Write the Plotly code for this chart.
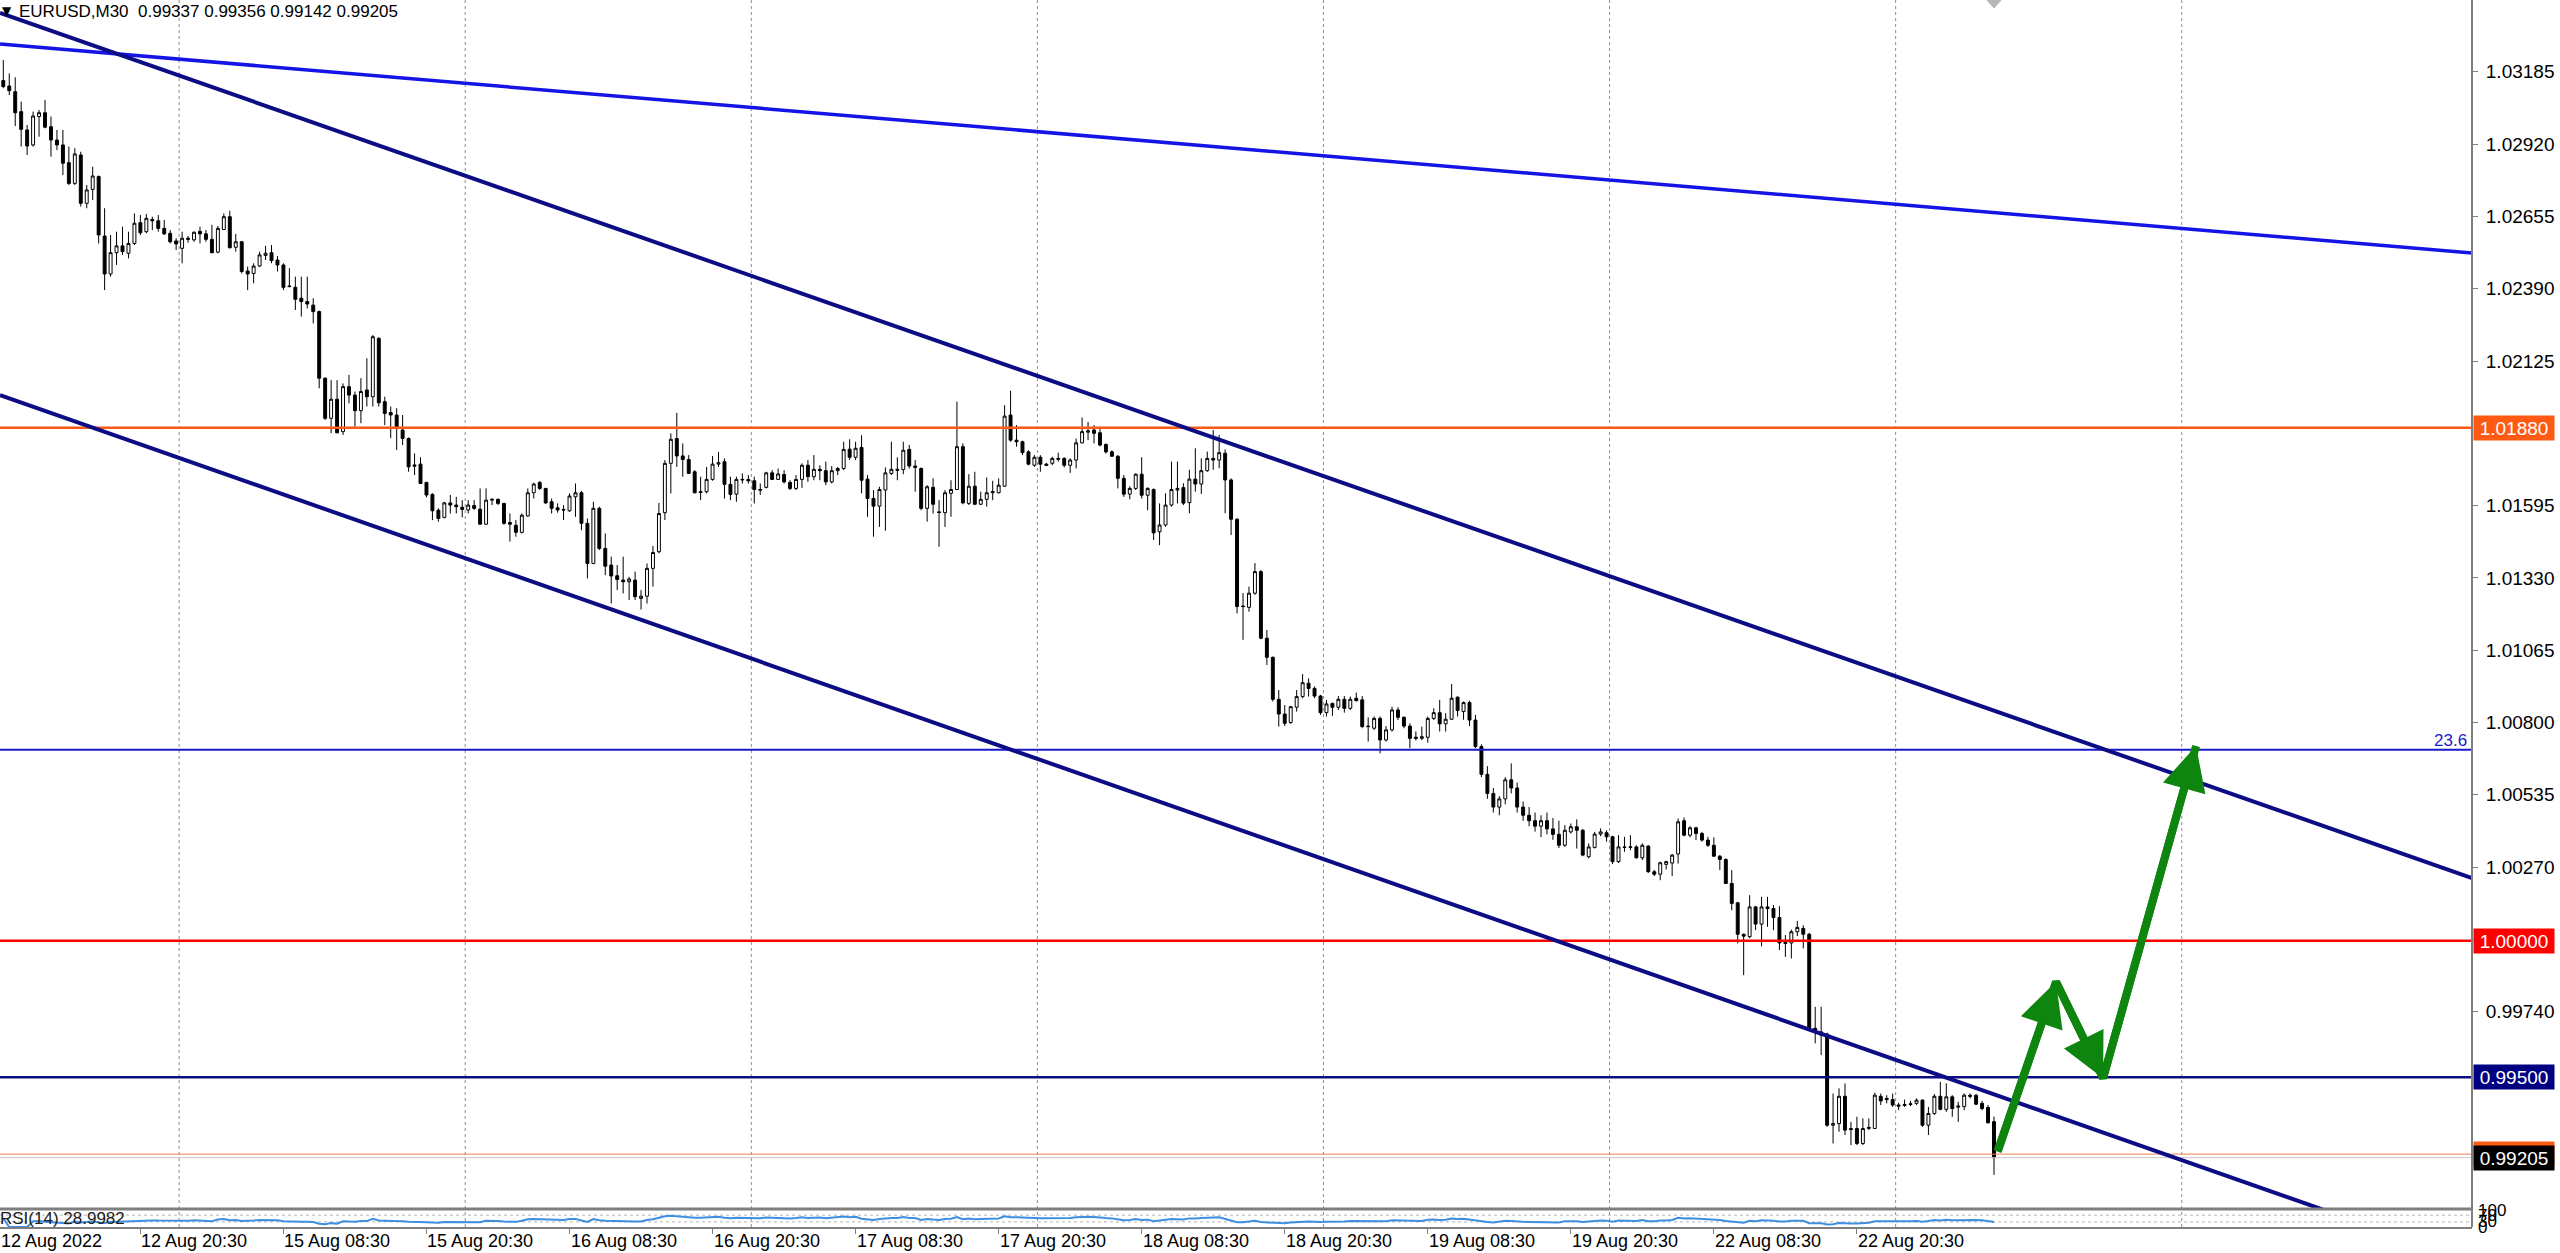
import plotly.graph_objects as go

# ---------------- data (EURUSD M30) ----------------
opens = [
1.03153,1.03133,1.03112,1.03039,1.02972,1.02917,1.03021,1.03035,1.02984,1.02935,
1.02917,1.02852,1.02776,1.02880,1.02703,1.02754,1.02801,1.02583,1.02444,1.02522,
1.02547,1.02520,1.02556,1.02632,1.02599,1.02644,1.02639,1.02611,1.02593,1.02565,
1.02538,1.02575,1.02569,1.02600,1.02591,1.02571,1.02524,1.02607,1.02654,1.02542,
1.02562,1.02455,1.02446,1.02473,1.02512,1.02522,1.02495,1.02477,1.02400,1.02395,
1.02355,1.02343,1.02330,1.02306,1.02062,1.01915,1.01985,1.01866,1.02031,1.02000,
1.01943,1.02019,1.01994,1.02208,1.01976,1.01936,1.01927,1.01872,1.01841,1.01744,
1.01747,1.01680,1.01636,1.01578,1.01552,1.01605,1.01597,1.01589,1.01579,1.01595,
1.01582,1.01527,1.01615,1.01618,1.01603,1.01533,1.01523,1.01497,1.01557,1.01642,
1.01680,1.01658,1.01609,1.01587,1.01581,1.01576,1.01627,1.01642,1.01530,1.01383,
1.01585,1.01438,1.01377,1.01338,1.01322,1.01316,1.01322,1.01255,1.01263,1.01365,
1.01426,1.01569,1.01750,1.01841,1.01777,1.01764,1.01719,1.01646,1.01646,1.01691,
1.01747,1.01756,1.01673,1.01637,1.01689,1.01691,1.01686,1.01654,1.01662,1.01715,
1.01691,1.01709,1.01680,1.01658,1.01691,1.01743,1.01701,1.01728,1.01723,1.01682,
1.01723,1.01731,1.01802,1.01772,1.01808,1.01692,1.01621,1.01593,1.01652,1.01713,
1.01728,1.01727,1.01801,1.01740,1.01731,1.01585,1.01662,1.01572,1.01569,1.01640,
1.01654,1.01811,1.01603,1.01666,1.01600,1.01618,1.01642,1.01642,1.01666,1.01927,
1.01835,1.01829,1.01792,1.01743,1.01772,1.01747,1.01750,1.01768,1.01768,1.01743,
1.01762,1.01825,1.01864,1.01872,1.01862,1.01819,1.01792,1.01776,1.01695,1.01637,
1.01658,1.01710,1.01633,1.01654,1.01499,1.01524,1.01597,1.01652,1.01661,1.01606,
1.01692,1.01674,1.01723,1.01768,1.01762,1.01787,1.01689,1.01545,1.01227,1.01222,
1.01274,1.01353,1.01109,1.01039,1.00885,1.00831,1.00800,1.00856,1.00895,1.00944,
1.00925,1.00897,1.00836,1.00870,1.00856,1.00885,1.00852,1.00889,1.00883,1.00787,
1.00779,1.00815,1.00736,1.00773,1.00846,1.00819,1.00787,1.00746,1.00742,1.00746,
1.00815,1.00836,1.00795,1.00812,1.00893,1.00840,1.00873,1.00809,1.00712,1.00610,
1.00540,1.00490,1.00520,1.00590,1.00560,1.00490,1.00460,1.00440,1.00420,1.00440,
1.00410,1.00390,1.00350,1.00399,1.00418,1.00405,1.00308,1.00342,1.00391,1.00396,
1.00381,1.00290,1.00344,1.00342,1.00344,1.00304,1.00347,1.00253,1.00244,1.00280,
1.00285,1.00318,1.00440,1.00387,1.00414,1.00393,1.00369,1.00350,1.00310,1.00298,
1.00210,1.00139,1.00024,1.00015,1.00124,1.00061,1.00124,1.00118,1.00085,0.99994,
0.99992,1.00033,1.00045,1.00024,0.99679,0.99666,0.99658,0.99324,0.99330,0.99430,
0.99312,0.99312,0.99257,0.99312,0.99312,0.99430,0.99422,0.99418,0.99398,0.99396,
0.99400,0.99404,0.99416,0.99324,0.99367,0.99430,0.99382,0.99428,0.99390,0.99392,
0.99434,0.99434,0.99404,0.99389,0.99337]

highs = [
1.03228,1.03179,1.03165,1.03076,1.02990,1.03039,1.03045,1.03082,1.03021,1.02972,
1.02972,1.02911,1.02905,1.02892,1.02770,1.02837,1.02805,1.02685,1.02587,1.02599,
1.02617,1.02599,1.02666,1.02660,1.02664,1.02654,1.02660,1.02642,1.02605,1.02575,
1.02599,1.02583,1.02600,1.02617,1.02605,1.02624,1.02620,1.02666,1.02676,1.02591,
1.02565,1.02471,1.02483,1.02526,1.02547,1.02550,1.02510,1.02483,1.02465,1.02434,
1.02434,1.02434,1.02355,1.02310,1.02065,1.02055,1.02055,1.02043,1.02074,1.02013,
1.02062,1.02135,1.02220,1.02212,1.01994,1.01958,1.01952,1.01927,1.01845,1.01786,
1.01772,1.01682,1.01640,1.01585,1.01609,1.01634,1.01627,1.01615,1.01615,1.01615,
1.01658,1.01658,1.01621,1.01621,1.01605,1.01566,1.01542,1.01566,1.01658,1.01679,
1.01685,1.01660,1.01621,1.01603,1.01597,1.01640,1.01676,1.01649,1.01548,1.01609,
1.01591,1.01493,1.01408,1.01377,1.01408,1.01334,1.01353,1.01285,1.01383,1.01447,
1.01605,1.01762,1.01860,1.01935,1.01823,1.01780,1.01725,1.01701,1.01737,1.01777,
1.01792,1.01768,1.01701,1.01701,1.01713,1.01707,1.01701,1.01676,1.01719,1.01725,
1.01731,1.01725,1.01688,1.01707,1.01750,1.01762,1.01780,1.01743,1.01756,1.01740,
1.01737,1.01829,1.01838,1.01829,1.01853,1.01707,1.01652,1.01664,1.01735,1.01829,
1.01772,1.01829,1.01817,1.01762,1.01735,1.01670,1.01695,1.01615,1.01652,1.01688,
1.01976,1.01823,1.01710,1.01719,1.01646,1.01698,1.01686,1.01695,1.01963,1.02016,
1.01890,1.01833,1.01798,1.01780,1.01780,1.01752,1.01774,1.01789,1.01772,1.01768,
1.01841,1.01918,1.01902,1.01890,1.01884,1.01823,1.01798,1.01780,1.01707,1.01666,
1.01713,1.01772,1.01662,1.01658,1.01603,1.01640,1.01756,1.01756,1.01677,1.01726,
1.01805,1.01768,1.01793,1.01872,1.01854,1.01801,1.01695,1.01549,1.01274,1.01298,
1.01384,1.01359,1.01139,1.01042,1.00919,1.00864,1.00861,1.00919,1.00978,1.00962,
1.00932,1.00901,1.00883,1.00873,1.00897,1.00897,1.00895,1.00910,1.00897,1.00819,
1.00822,1.00822,1.00787,1.00858,1.00856,1.00822,1.00797,1.00767,1.00785,1.00822,
1.00852,1.00883,1.00834,1.00941,1.00895,1.00877,1.00880,1.00828,1.00720,1.00640,
1.00560,1.00530,1.00600,1.00650,1.00580,1.00510,1.00490,1.00470,1.00460,1.00470,
1.00450,1.00440,1.00424,1.00430,1.00445,1.00410,1.00357,1.00399,1.00412,1.00405,
1.00385,1.00387,1.00381,1.00387,1.00350,1.00357,1.00350,1.00259,1.00290,1.00293,
1.00318,1.00448,1.00452,1.00420,1.00418,1.00399,1.00381,1.00379,1.00314,1.00302,
1.00259,1.00143,1.00026,1.00167,1.00128,1.00161,1.00161,1.00131,1.00127,1.00021,
1.00041,1.00073,1.00057,1.00029,0.99758,0.99758,0.99663,0.99440,0.99459,0.99477,
0.99336,0.99355,0.99349,0.99349,0.99443,0.99440,0.99434,0.99440,0.99406,0.99418,
0.99413,0.99422,0.99418,0.99391,0.99438,0.99483,0.99477,0.99434,0.99410,0.99440,
0.99440,0.99438,0.99413,0.99398,0.99356]

lows = [
1.03125,1.03100,1.02986,1.02911,1.02880,1.02911,1.02947,1.02978,1.02874,1.02898,
1.02807,1.02770,1.02770,1.02691,1.02685,1.02715,1.02556,1.02385,1.02434,1.02477,
1.02514,1.02501,1.02550,1.02587,1.02593,1.02605,1.02599,1.02587,1.02556,1.02532,
1.02483,1.02559,1.02562,1.02556,1.02562,1.02520,1.02520,1.02605,1.02538,1.02526,
1.02446,1.02385,1.02410,1.02470,1.02495,1.02483,1.02453,1.02385,1.02395,1.02312,
1.02288,1.02318,1.02263,1.02025,1.01909,1.01860,1.01860,1.01854,1.01970,1.01884,
1.01897,1.01958,1.01958,1.01958,1.01890,1.01842,1.01799,1.01817,1.01719,1.01707,
1.01674,1.01625,1.01542,1.01536,1.01548,1.01566,1.01566,1.01552,1.01566,1.01579,
1.01525,1.01525,1.01597,1.01597,1.01525,1.01463,1.01481,1.01493,1.01554,1.01621,
1.01652,1.01601,1.01566,1.01569,1.01542,1.01572,1.01554,1.01505,1.01328,1.01380,
1.01432,1.01340,1.01236,1.01285,1.01273,1.01249,1.01249,1.01214,1.01236,1.01298,
1.01420,1.01542,1.01640,1.01737,1.01701,1.01711,1.01640,1.01615,1.01640,1.01686,
1.01737,1.01621,1.01615,1.01609,1.01676,1.01676,1.01603,1.01634,1.01658,1.01689,
1.01689,1.01676,1.01652,1.01652,1.01660,1.01682,1.01688,1.01688,1.01670,1.01676,
1.01707,1.01725,1.01762,1.01762,1.01640,1.01554,1.01481,1.01517,1.01503,1.01707,
1.01688,1.01710,1.01731,1.01646,1.01578,1.01536,1.01566,1.01444,1.01517,1.01554,
1.01652,1.01600,1.01597,1.01597,1.01597,1.01591,1.01615,1.01640,1.01664,1.01829,
1.01811,1.01780,1.01743,1.01737,1.01719,1.01740,1.01743,1.01756,1.01735,1.01715,
1.01731,1.01823,1.01835,1.01823,1.01812,1.01786,1.01774,1.01658,1.01627,1.01618,
1.01652,1.01621,1.01578,1.01469,1.01450,1.01517,1.01591,1.01603,1.01597,1.01567,
1.01646,1.01638,1.01719,1.01726,1.01732,1.01567,1.01487,1.01200,1.01103,1.01206,
1.01268,1.01105,1.01011,1.00877,1.00785,1.00787,1.00795,1.00840,1.00889,1.00895,
1.00889,1.00828,1.00822,1.00824,1.00846,1.00836,1.00846,1.00877,1.00779,1.00730,
1.00773,1.00687,1.00730,1.00767,1.00809,1.00779,1.00706,1.00734,1.00736,1.00726,
1.00809,1.00767,1.00767,1.00810,1.00822,1.00810,1.00787,1.00706,1.00600,1.00520,
1.00470,1.00460,1.00500,1.00540,1.00470,1.00440,1.00420,1.00400,1.00380,1.00390,
1.00370,1.00340,1.00344,1.00393,1.00338,1.00310,1.00302,1.00338,1.00383,1.00363,
1.00281,1.00285,1.00326,1.00332,1.00302,1.00296,1.00249,1.00237,1.00222,1.00261,
1.00237,1.00283,1.00383,1.00379,1.00369,1.00363,1.00344,1.00308,1.00259,1.00208,
1.00112,0.99990,0.99874,1.00009,1.00039,0.99980,1.00051,1.00039,0.99966,0.99941,
0.99935,1.00017,0.99972,0.99679,0.99624,0.99581,0.99318,0.99257,0.99300,0.99288,
0.99251,0.99251,0.99251,0.99306,0.99310,0.99398,0.99404,0.99391,0.99379,0.99391,
0.99394,0.99398,0.99318,0.99288,0.99361,0.99379,0.99373,0.99355,0.99336,0.99379,
0.99422,0.99398,0.99379,0.99330,0.99142]

closes = [
1.03131,1.03116,1.03035,1.02974,1.02913,1.03023,1.03035,1.02982,1.02935,1.02917,
1.02850,1.02776,1.02884,1.02703,1.02752,1.02803,1.02587,1.02444,1.02522,1.02547,
1.02526,1.02556,1.02630,1.02595,1.02648,1.02639,1.02611,1.02591,1.02562,1.02554,
1.02575,1.02571,1.02597,1.02591,1.02571,1.02522,1.02611,1.02654,1.02540,1.02562,
1.02453,1.02444,1.02473,1.02514,1.02520,1.02493,1.02477,1.02395,1.02398,1.02351,
1.02343,1.02334,1.02306,1.02062,1.01915,1.01985,1.01862,1.02031,1.02000,1.01943,
1.02013,1.01994,1.02214,1.01972,1.01933,1.01927,1.01878,1.01841,1.01737,1.01740,
1.01676,1.01634,1.01576,1.01548,1.01605,1.01597,1.01591,1.01581,1.01597,1.01585,
1.01527,1.01615,1.01618,1.01603,1.01530,1.01527,1.01497,1.01560,1.01642,1.01674,
1.01658,1.01605,1.01585,1.01579,1.01579,1.01630,1.01642,1.01530,1.01383,1.01585,
1.01438,1.01373,1.01337,1.01324,1.01316,1.01326,1.01261,1.01263,1.01365,1.01423,
1.01566,1.01750,1.01838,1.01777,1.01764,1.01713,1.01642,1.01643,1.01691,1.01747,
1.01752,1.01673,1.01636,1.01691,1.01691,1.01686,1.01654,1.01652,1.01715,1.01691,
1.01711,1.01682,1.01658,1.01691,1.01743,1.01701,1.01728,1.01723,1.01682,1.01723,
1.01731,1.01801,1.01772,1.01805,1.01688,1.01621,1.01593,1.01654,1.01715,1.01728,
1.01725,1.01798,1.01740,1.01735,1.01585,1.01664,1.01600,1.01570,1.01642,1.01654,
1.01811,1.01605,1.01666,1.01600,1.01618,1.01642,1.01646,1.01670,1.01923,1.01835,
1.01829,1.01789,1.01747,1.01772,1.01747,1.01743,1.01768,1.01765,1.01743,1.01762,
1.01825,1.01866,1.01869,1.01860,1.01817,1.01792,1.01776,1.01695,1.01637,1.01658,
1.01710,1.01633,1.01658,1.01495,1.01524,1.01597,1.01654,1.01658,1.01604,1.01692,
1.01674,1.01723,1.01768,1.01762,1.01789,1.01689,1.01545,1.01225,1.01225,1.01274,
1.01353,1.01109,1.01039,1.00885,1.00831,1.00797,1.00858,1.00895,1.00946,1.00925,
1.00897,1.00836,1.00868,1.00856,1.00885,1.00852,1.00885,1.00880,1.00785,1.00785,
1.00815,1.00736,1.00773,1.00846,1.00819,1.00787,1.00742,1.00742,1.00748,1.00815,
1.00836,1.00795,1.00812,1.00889,1.00844,1.00873,1.00809,1.00712,1.00610,1.00540,
1.00490,1.00520,1.00590,1.00560,1.00490,1.00460,1.00440,1.00420,1.00440,1.00410,
1.00390,1.00350,1.00405,1.00418,1.00405,1.00314,1.00344,1.00391,1.00399,1.00381,
1.00290,1.00344,1.00342,1.00344,1.00304,1.00350,1.00253,1.00244,1.00286,1.00290,
1.00314,1.00436,1.00387,1.00414,1.00393,1.00369,1.00350,1.00310,1.00298,1.00210,
1.00137,1.00024,1.00017,1.00124,1.00061,1.00124,1.00118,1.00085,0.99992,0.99990,
1.00033,1.00049,1.00024,0.99682,0.99672,0.99654,0.99324,0.99330,0.99430,0.99306,
0.99308,0.99257,0.99312,0.99316,0.99434,0.99413,0.99418,0.99398,0.99394,0.99400,
0.99402,0.99416,0.99324,0.99367,0.99430,0.99382,0.99428,0.99385,0.99394,0.99434,
0.99430,0.99401,0.99385,0.99333,0.99205]

# time-axis labels and the bar they start at
time_labels = ["12 Aug 2022", "12 Aug 20:30", "15 Aug 08:30", "15 Aug 20:30", "16 Aug 08:30",
               "16 Aug 20:30", "17 Aug 08:30", "17 Aug 20:30", "18 Aug 08:30", "18 Aug 20:30",
               "19 Aug 08:30", "19 Aug 20:30", "22 Aug 08:30", "22 Aug 20:30"]
time_label_bars = [-0.5, 23, 47, 71, 95, 119, 143, 167, 191, 215, 239, 263, 287, 311]
day_separator_bars = [29.5, 77.5, 125.5, 173.5, 221.5, 269.5, 317.5, 365.5]

# price scale labels (those fully hidden under the coloured price boxes are omitted)
price_tick_labels = ["1.03185", "1.02920", "1.02655", "1.02390", "1.02125", "1.01595",
                     "1.01330", "1.01065", "1.00800", "1.00535", "1.00270", "1.00005", "0.99740"]

# drawn objects (bar index, price)
trend_long_bars, trend_long_prices = [-0.55, 414.2], [1.03287, 1.02521]
channel_top_bars, channel_top_prices = [-0.55, 414.2], [1.03401, 1.00230]
channel_bot_bars, channel_bot_prices = [-0.55, 414.2], [1.02000, 0.98823]
level_resistance = 1.01880
level_fib236 = 1.00700
level_parity = 1.00000
level_support = 0.99500
ask_price = 0.99218
bid_price = 0.99205
zigzag_bars = [334.6, 344.4, 352.3, 367.9]
zigzag_prices = [0.99227, 0.99850, 0.99496, 1.00714]

symbol = "EURUSD,M30"
rsi_period = 14
rsi_label = "RSI(14) 28.9982"
rsi_levels = [70, 30]
rsi_scale_labels = ["100", "70", "30", "0"]
rsi_scale_values = [100, 70, 30, 0]

# ---------------- derived ----------------
n = min(len(opens), len(highs), len(lows), len(closes))
bars = list(range(n))


def rsi(values, period):
    out = [50.0]
    gains, losses = [], []
    ag = al = 0.0
    for i in range(1, len(values)):
        d = values[i] - values[i - 1]
        g, l = max(d, 0.0), max(-d, 0.0)
        if i <= period:
            gains.append(g)
            losses.append(l)
            ag, al = sum(gains) / len(gains), sum(losses) / len(losses)
        else:
            ag = (ag * (period - 1) + g) / period
            al = (al * (period - 1) + l) / period
        out.append(100.0 if al == 0 else 100.0 - 100.0 / (1.0 + ag / al))
    return out


rsi_values = rsi(closes[:n], rsi_period)

# ---------------- figure geometry ----------------
W, H = 2560, 1253
M_R, M_B = 88, 26
plot_h = H - M_B
main_bottom_px = 1208
rsi_top_px = 1210
main_dom = [(plot_h - main_bottom_px) / plot_h, 1.0]
rsi_dom = [0.0, (plot_h - rsi_top_px) / plot_h]
X_RANGE = [-0.554, 414.2]
Y_RANGE = [0.990205, 1.034482]

FONT = "Liberation Sans, Arial, sans-serif"
NAVY = "#0c0c85"
BLUE = "#1414e6"
ORANGE = "#ff5a14"
RED = "#ff0000"
GREEN = "#0e850e"
GRID = "#8c8c8c"
AXIS = "#7f7f7f"

fig = go.Figure()

fig.add_trace(go.Candlestick(
    x=bars, open=opens[:n], high=highs[:n], low=lows[:n], close=closes[:n],
    increasing=dict(line=dict(color="black", width=1), fillcolor="white"),
    decreasing=dict(line=dict(color="black", width=1), fillcolor="black"),
    whiskerwidth=0, showlegend=False, hoverinfo="skip",
    xaxis="x", yaxis="y"))


def hline(price, color, width):
    fig.add_trace(go.Scatter(x=X_RANGE, y=[price, price], mode="lines",
                             line=dict(color=color, width=width),
                             showlegend=False, hoverinfo="skip", xaxis="x", yaxis="y"))


hline(bid_price, "#c8c8c8", 1)
hline(ask_price, "#f08050", 1)
hline(level_resistance, ORANGE, 2.5)
hline(level_fib236, "#1a1acc", 2)
hline(level_parity, RED, 2.5)
hline(level_support, NAVY, 2.5)

for bx, py, col, wd in [(trend_long_bars, trend_long_prices, BLUE, 3.5),
                        (channel_top_bars, channel_top_prices, NAVY, 4),
                        (channel_bot_bars, channel_bot_prices, NAVY, 4)]:
    fig.add_trace(go.Scatter(x=bx, y=py, mode="lines", line=dict(color=col, width=wd),
                             showlegend=False, hoverinfo="skip", xaxis="x", yaxis="y"))

fig.add_trace(go.Scatter(x=zigzag_bars, y=zigzag_prices, mode="lines",
                         line=dict(color=GREEN, width=8), showlegend=False,
                         hoverinfo="skip", xaxis="x", yaxis="y"))

# RSI
fig.add_trace(go.Scatter(x=bars, y=rsi_values, mode="lines",
                         line=dict(color="#3d8fe0", width=2), showlegend=False,
                         hoverinfo="skip", xaxis="x2", yaxis="y2"))

shapes = []
for b in day_separator_bars:
    shapes.append(dict(type="line", xref="x", yref="paper", x0=b, x1=b, y0=0, y1=1,
                       line=dict(color=GRID, width=1, dash="dot"), layer="below"))
for lv in rsi_levels:
    shapes.append(dict(type="line", xref="paper", yref="y2", x0=0, x1=1, y0=lv, y1=lv,
                       line=dict(color="#b4b4b4", width=1, dash="dot"), layer="below"))
# panel separator, right scale border
sep_y = (plot_h - 1209) / plot_h
shapes.append(dict(type="line", xref="paper", yref="paper", x0=0, x1=1, y0=sep_y, y1=sep_y,
                   line=dict(color=AXIS, width=3)))
shapes.append(dict(type="line", xref="paper", yref="paper", x0=1, x1=1, y0=0, y1=1,
                   line=dict(color=AXIS, width=2)))
# chart-shift marker
shapes.append(dict(type="path", xref="x", yref="paper", xsizemode="pixel", ysizemode="pixel",
                   xanchor=n - 1, yanchor=1, path="M -9,2 L 9,2 L 0,-8 Z",
                   fillcolor="#b8b8b8", line=dict(color="#b8b8b8", width=1)))

ann = []
# header
ann.append(dict(xref="paper", yref="paper", x=0, y=1, xanchor="left", yanchor="top",
                xshift=0, yshift=-2, showarrow=False, text="\u25bc",
                font=dict(family="DejaVu Sans", size=12, color="black")))
head = "%s\u00a0\u00a0%.5f %.5f %.5f %.5f" % (symbol, opens[n - 1], highs[n - 1], lows[n - 1], closes[n - 1])
ann.append(dict(xref="paper", yref="paper", x=0, y=1, xanchor="left", yanchor="top",
                xshift=17, yshift=0, showarrow=False, text=head,
                font=dict(family=FONT, size=17, color="black")))
# time labels
for lab, b in zip(time_labels, time_label_bars):
    ann.append(dict(xref="x2", yref="paper", x=b, y=0, xanchor="left", yanchor="middle",
                    xshift=-1, yshift=-14, showarrow=False, text=lab,
                    font=dict(family=FONT, size=18, color="black")))
# RSI texts
ann.append(dict(xref="paper", yref="paper", x=0, y=rsi_dom[1], xanchor="left", yanchor="top",
                xshift=-2, yshift=3, showarrow=False, text=rsi_label,
                font=dict(family=FONT, size=17, color="#202020")))
for t, v in zip(rsi_scale_labels, rsi_scale_values):
    ann.append(dict(xref="paper", yref="y2", x=1, y=v, xanchor="left", yanchor="middle",
                    xshift=4, showarrow=False, text=t,
                    font=dict(family=FONT, size=17, color="black")))
# fibo label
ann.append(dict(xref="paper", yref="y", x=1, y=level_fib236, xanchor="right", yanchor="bottom",
                xshift=-3, yshift=-2, showarrow=False, text="23.6",
                font=dict(family=FONT, size=17, color="#1a1acc")))
# price boxes
for txt, price, bg in [("1.01880", level_resistance, ORANGE), ("1.00000", level_parity, RED),
                       ("0.99500", level_support, "#000080"), ("%.5f" % ask_price, ask_price, ORANGE),
                       ("%.5f" % bid_price, bid_price, "black")]:
    ann.append(dict(xref="paper", yref="y", x=1, y=price, xanchor="left", yanchor="middle",
                    xshift=1, showarrow=False, text=txt, bgcolor=bg, width=76, height=20,
                    borderpad=2, align="center",
                    font=dict(family=FONT, size=19, color="white")))
# green arrows
for i in range(len(zigzag_bars) - 1):
    ann.append(dict(xref="x", yref="y", axref="x", ayref="y",
                    x=zigzag_bars[i + 1], y=zigzag_prices[i + 1],
                    ax=zigzag_bars[i], ay=zigzag_prices[i], text="", showarrow=True,
                    arrowhead=2, arrowsize=1.1, arrowwidth=8, arrowcolor=GREEN,
                    standoff=0, startstandoff=0))

fig.update_layout(
    width=W, height=H, paper_bgcolor="white", plot_bgcolor="white",
    margin=dict(l=0, r=M_R, t=0, b=M_B), showlegend=False,
    font=dict(family=FONT, size=17, color="black"),
    xaxis=dict(domain=[0, 1], range=X_RANGE, anchor="y", showgrid=False, zeroline=False,
               showticklabels=False, ticks="", rangeslider=dict(visible=False), fixedrange=True),
    yaxis=dict(domain=main_dom, range=Y_RANGE, side="right", anchor="x", showgrid=False,
               zeroline=False, tickvals=[float(s) for s in price_tick_labels],
               ticktext=price_tick_labels, ticks="outside", ticklen=5, tickcolor=AXIS,
               tickfont=dict(family=FONT, size=19, color="black"), ticklabelstandoff=4,
               showline=False, fixedrange=True),
    xaxis2=dict(domain=[0, 1], range=X_RANGE, anchor="y2", matches="x", showgrid=False,
                zeroline=False, showticklabels=False, ticks="outside", ticklen=5,
                tickcolor=AXIS, tickvals=time_label_bars[1:], showline=True,
                linecolor=AXIS, linewidth=2, fixedrange=True),
    yaxis2=dict(domain=rsi_dom, range=[0, 100], side="right", anchor="x2", showgrid=False,
                zeroline=False, showticklabels=False, ticks="", fixedrange=True),
    shapes=shapes, annotations=ann,
)

fig.write_html("out.html", config={"displayModeBar": False},
               post_script="document.body.style.margin='0';document.body.style.overflow='hidden';")
